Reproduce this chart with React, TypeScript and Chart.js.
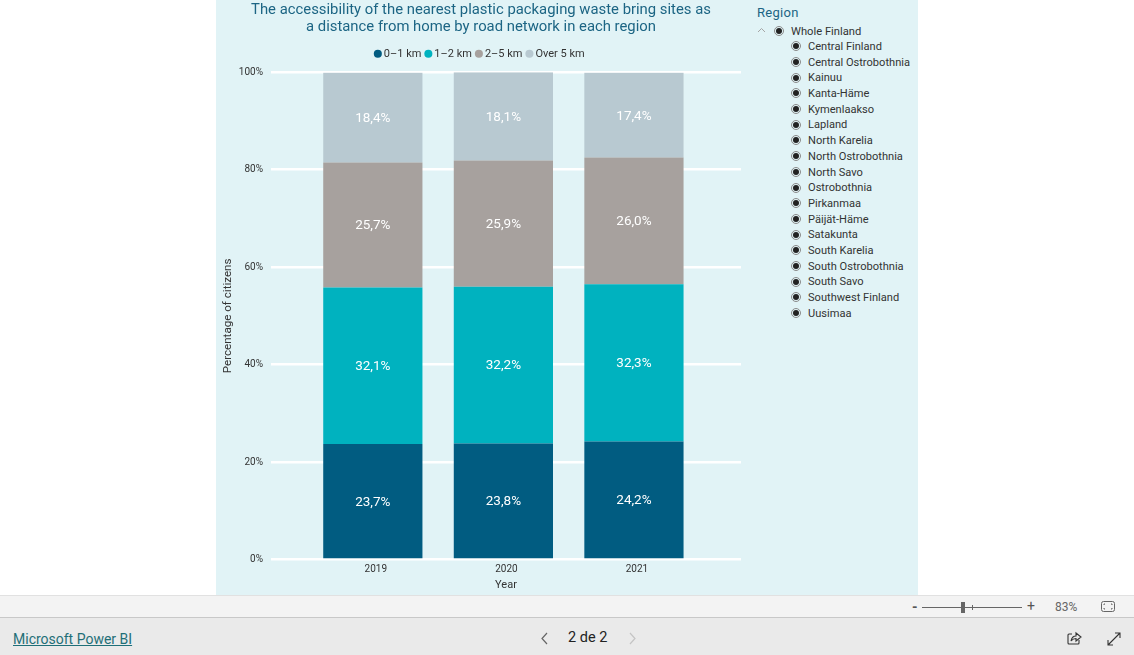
import React, { useEffect, useRef } from "react";
import { Chart, registerables } from "chart.js";

Chart.register(...registerables);

const years = [2019, 2020, 2021];
const km0to1 = [23.7, 23.8, 24.2];
const km1to2 = [32.1, 32.2, 32.3];
const km2to5 = [25.7, 25.9, 26.0];
const over5 = [18.4, 18.1, 17.4];
const titleLines = [
  "The accessibility of the nearest plastic packaging waste bring sites as",
  "a distance from home by road network in each region",
];
const regions = [
  "Central Finland", "Central Ostrobothnia", "Kainuu", "Kanta-Häme", "Kymenlaakso", "Lapland",
  "North Karelia", "North Ostrobothnia", "North Savo", "Ostrobothnia", "Pirkanmaa", "Päijät-Häme",
  "Satakunta", "South Karelia", "South Ostrobothnia", "South Savo", "Southwest Finland", "Uusimaa",
];

const FONT = "Roboto, 'Noto Sans', sans-serif";
const TITLE = "#1c6584";
const INK = "#333333";

const valueLabels = {
  id: "valueLabels",
  afterDatasetsDraw(chart: any) {
    const { ctx } = chart;
    ctx.save();
    ctx.fillStyle = "#ffffff";
    ctx.font = `13.5px ${FONT}`;
    ctx.textAlign = "center";
    ctx.textBaseline = "middle";
    chart.data.datasets.forEach((ds: any, i: number) => {
      chart.getDatasetMeta(i).data.forEach((el: any, j: number) => {
        const p = el.getCenterPoint();
        ctx.fillText(ds.data[j].toFixed(1).replace(".", ",") + "%", p.x, p.y + 1);
      });
    });
    ctx.restore();
  },
};

const nudgeBlocks = {
  id: "nudgeBlocks",
  afterLayout(chart: any) {
    chart.titleBlock.left += 2.5;
    chart.titleBlock.right += 2.5;
    chart.legend.top -= 3;
    chart.legend.bottom -= 3;
    chart.legend.left += 2.5;
    chart.legend.right += 2.5;
  },
};

function Radio({ left, top }: { left: number; top: number }) {
  return (
    <span style={{ position: "absolute", left: left - 5, top: top - 5, width: 8, height: 8, borderRadius: "50%", border: "1px solid #8a8a8a", display: "block" }}>
      <span style={{ position: "absolute", left: 1, top: 1, width: 6, height: 6, borderRadius: "50%", background: "#222" }} />
    </span>
  );
}

function Txt({ left, top, size, color, children, extra }: any) {
  return (
    <span style={{ position: "absolute", left, top: top - 10, height: 20, lineHeight: "20px", fontSize: size, color, whiteSpace: "nowrap", fontFamily: FONT, ...extra }}>
      {children}
    </span>
  );
}

export default function App() {
  const ref = useRef<HTMLCanvasElement>(null);
  useEffect(() => {
    const chart = new Chart(ref.current!, {
      type: "bar",
      plugins: [valueLabels, nudgeBlocks],
      data: {
        labels: years as any,
        datasets: [
          { label: "0–1 km", data: km0to1, backgroundColor: "#015c81" },
          { label: "1–2 km", data: km1to2, backgroundColor: "#00b2bf" },
          { label: "2–5 km", data: km2to5, backgroundColor: "#a7a19e" },
          { label: "Over 5 km", data: over5, backgroundColor: "#b8c9d1" },
        ],
      },
      options: {
        responsive: false,
        animation: false,
        barPercentage: 0.76,
        categoryPercentage: 1,
        layout: { padding: { left: 0, right: 5, top: 0, bottom: 0 } },
        plugins: {
          title: {
            display: true,
            text: titleLines,
            color: TITLE,
            font: { family: FONT, size: 14.85, weight: "400", lineHeight: 1.12 },
            padding: { top: 2, bottom: 9.5 },
          },
          legend: {
            display: true,
            position: "top",
            labels: {
              color: INK,
              font: { family: FONT, size: 11 },
              usePointStyle: true,
              pointStyle: "circle",
              boxWidth: 1,
              boxHeight: 5.7,
              padding: 6.5,
            },
          },
          tooltip: { enabled: false },
        },
        scales: {
          x: {
            type: "linear",
            stacked: true,
            offset: false,
            min: 2018.22,
            max: 2021.82,
            grid: { display: false, offset: false, drawTicks: false },
            border: { display: false },
            afterBuildTicks: (s: any) => { s.ticks = years.map((v) => ({ value: v })); },
            afterFit: (s: any) => { s.height = 35.5; },
            ticks: {
              color: INK,
              font: { family: FONT, size: 10 },
              padding: 4,
              labelOffset: 3,
              maxRotation: 0,
              callback: (v: any) => String(v),
            },
            title: { display: true, text: "Year", color: INK, font: { family: FONT, size: 11 }, padding: { top: 1, bottom: 3 } },
          },
          y: {
            stacked: true,
            min: 0,
            max: 100,
            border: { display: false },
            afterFit: (s: any) => { s.width = 55; },
            grid: { color: "#ffffff", lineWidth: 2.5, drawTicks: false },
            ticks: {
              stepSize: 20,
              color: INK,
              font: { family: FONT, size: 10 },
              padding: 8,
              callback: (v: any) => v + "%",
            },
            title: { display: true, text: "Percentage of citizens", color: INK, font: { family: FONT, size: 11.6 }, padding: { top: 5, bottom: 0 } },
          },
        },
      } as any,
    });
    return () => chart.destroy();
  }, []);

  return (
    <div style={{ position: "fixed", left: 0, top: 0, width: 1134, height: 655, overflow: "hidden", background: "#fff", fontFamily: FONT }}>
      <div style={{ position: "absolute", left: 216, top: 0, width: 702, height: 595, background: "#e1f3f6" }} />
      <canvas ref={ref} width={530} height={595} style={{ position: "absolute", left: 216, top: 0, display: "block" }} />

      <Txt left={757} top={13} size={13} color={TITLE} extra={{ letterSpacing: 0.3 }}>Region</Txt>
      <svg style={{ position: "absolute", left: 757, top: 27 }} width={9} height={6}>
        <path d="M1 5 L4.5 1.5 L8 5" fill="none" stroke="#a5a5a5" strokeWidth="1" />
      </svg>
      <Radio left={779} top={31} />
      <Txt left={791} top={32} size={11.2} color={INK}>Whole Finland</Txt>
      {regions.map((r, i) => {
        const y = 46.3 + i * 15.69;
        return (
          <React.Fragment key={r}>
            <Radio left={796} top={y} />
            <Txt left={808} top={y + 0.7} size={11.1} color={INK}>{r}</Txt>
          </React.Fragment>
        );
      })}

      <div style={{ position: "absolute", left: 0, top: 595, width: 1134, height: 23, boxSizing: "border-box", background: "#f3f3f3", borderTop: "1px solid #e1e1e1", borderBottom: "1px solid #c8c8c8" }} />
      <div style={{ position: "absolute", left: 0, top: 618, width: 1134, height: 37, background: "#eaeaea" }} />

      <Txt left={912} top={607} size={14} color="#555" extra={{ fontWeight: 700 }}>-</Txt>
      <div style={{ position: "absolute", left: 922, top: 607, width: 100, height: 1, background: "#666" }} />
      <div style={{ position: "absolute", left: 961, top: 602, width: 4, height: 11, background: "#666" }} />
      <div style={{ position: "absolute", left: 972, top: 605, width: 1, height: 5, background: "#666" }} />
      <Txt left={1027} top={606} size={14} color="#555">+</Txt>
      <Txt left={1055} top={607} size={12} color="#666">83%</Txt>
      <svg style={{ position: "absolute", left: 1101, top: 601 }} width={15} height={12}>
        <rect x="0.5" y="0.5" width="13" height="10" rx="2" fill="none" stroke="#666" />
        <path d="M3 4 V3 H4 M10 3 H11 V4 M3 7 V8 H4 M10 8 H11 V7" fill="none" stroke="#666" />
      </svg>

      <Txt left={13} top={639} size={14} color="#1f6f78" extra={{ textDecoration: "underline" }}>Microsoft Power BI</Txt>
      <svg style={{ position: "absolute", left: 540, top: 632 }} width={9} height={13}>
        <path d="M7 1 L2 6.5 L7 12" fill="none" stroke="#666" strokeWidth="1.2" />
      </svg>
      <Txt left={568} top={638} size={14.5} color="#222">2 de 2</Txt>
      <svg style={{ position: "absolute", left: 628, top: 632 }} width={9} height={13}>
        <path d="M2 1 L7 6.5 L2 12" fill="none" stroke="#c4c4c4" strokeWidth="1.2" />
      </svg>
      <svg style={{ position: "absolute", left: 1067, top: 631 }} width={15} height={15}>
        <path d="M5 3 H2 Q1 3 1 4 V12 Q1 13 2 13 H11 Q12 13 12 12 V9" fill="none" stroke="#333" strokeWidth="1.1" />
        <path d="M4 10 Q5 5 9 5 V2 L14 6 L9 10 V7.5 Q6 7.5 4 10 Z" fill="none" stroke="#333" strokeWidth="1.1" />
      </svg>
      <svg style={{ position: "absolute", left: 1107, top: 632 }} width={14} height={14}>
        <path d="M1 13 L13 1 M8 1 H13 V6 M1 8 V13 H6" fill="none" stroke="#333" strokeWidth="1.1" />
      </svg>
    </div>
  );
}
